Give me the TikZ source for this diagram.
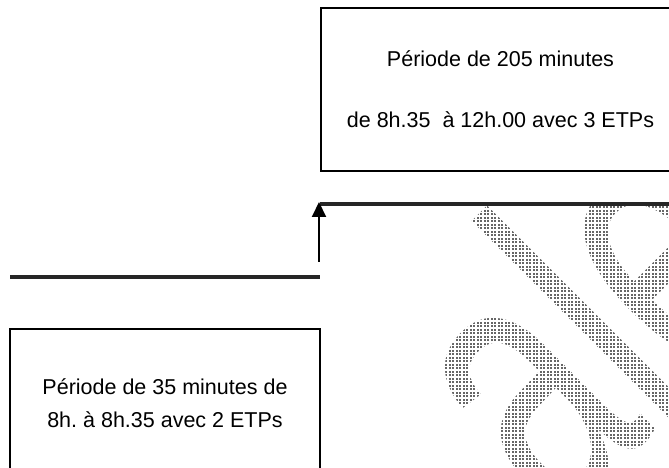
\documentclass[tikz,border=0pt]{standalone}
\usepackage{fontspec}
\setmainfont{Liberation Sans}
\usetikzlibrary{arrows.meta}
\frenchspacing
\tikzset{
  box/.style={draw=black, line width=1.5pt, rectangle, align=center, inner sep=0pt,
    font=\fontsize{21.5}{61}\selectfont},
  boxb/.style={box, font=\fontsize{21.5}{33}\selectfont},
  thickline/.style={draw=black!85, line width=3.5pt},
  uparrow/.style={draw=black, line width=2pt, -{Triangle[width=14pt,length=15pt]}},
  watermark/.style={rotate=45, anchor=base west, inner sep=0pt, text=black!60,
    font=\fontsize{383}{383}\selectfont},
  stipple/.style={draw=white, line width=1.4pt}
}
\begin{document}
\begin{tikzpicture}[x=1pt,y=1pt]
\useasboundingbox (0,0) rectangle (669,468);
\begin{scope}
\clip (321,0) rectangle (669,261);
\node[watermark] (wm) at (558,-60) {\scalebox{0.65}[1]{ale}};
\draw[stipple, step=3.5pt] (321,0) grid (669,262);
\end{scope}
\node[box, minimum width=359pt, minimum height=163pt] (top) at (500.5,378.5)
  {Période de 205 minutes\\de 8h.35~ à 12h.00 avec 3 ETPs};
\node[boxb, minimum width=310pt, minimum height=149pt] (bot) at (165,64.5)
  {Période de 35 minutes de\\8h. à 8h.35 avec 2 ETPs};
\coordinate (t1) at (320,264);
\coordinate (t2) at (680,264);
\coordinate (b1) at (10,191);
\coordinate (b2) at (320,191);
\coordinate (a0) at (319,206);
\coordinate (atip) at (319,266);
\draw[thickline] (t1) -- (t2);
\draw[thickline] (b1) -- (b2);
\draw[uparrow] (a0) -- (atip);
\end{tikzpicture}
\end{document}
